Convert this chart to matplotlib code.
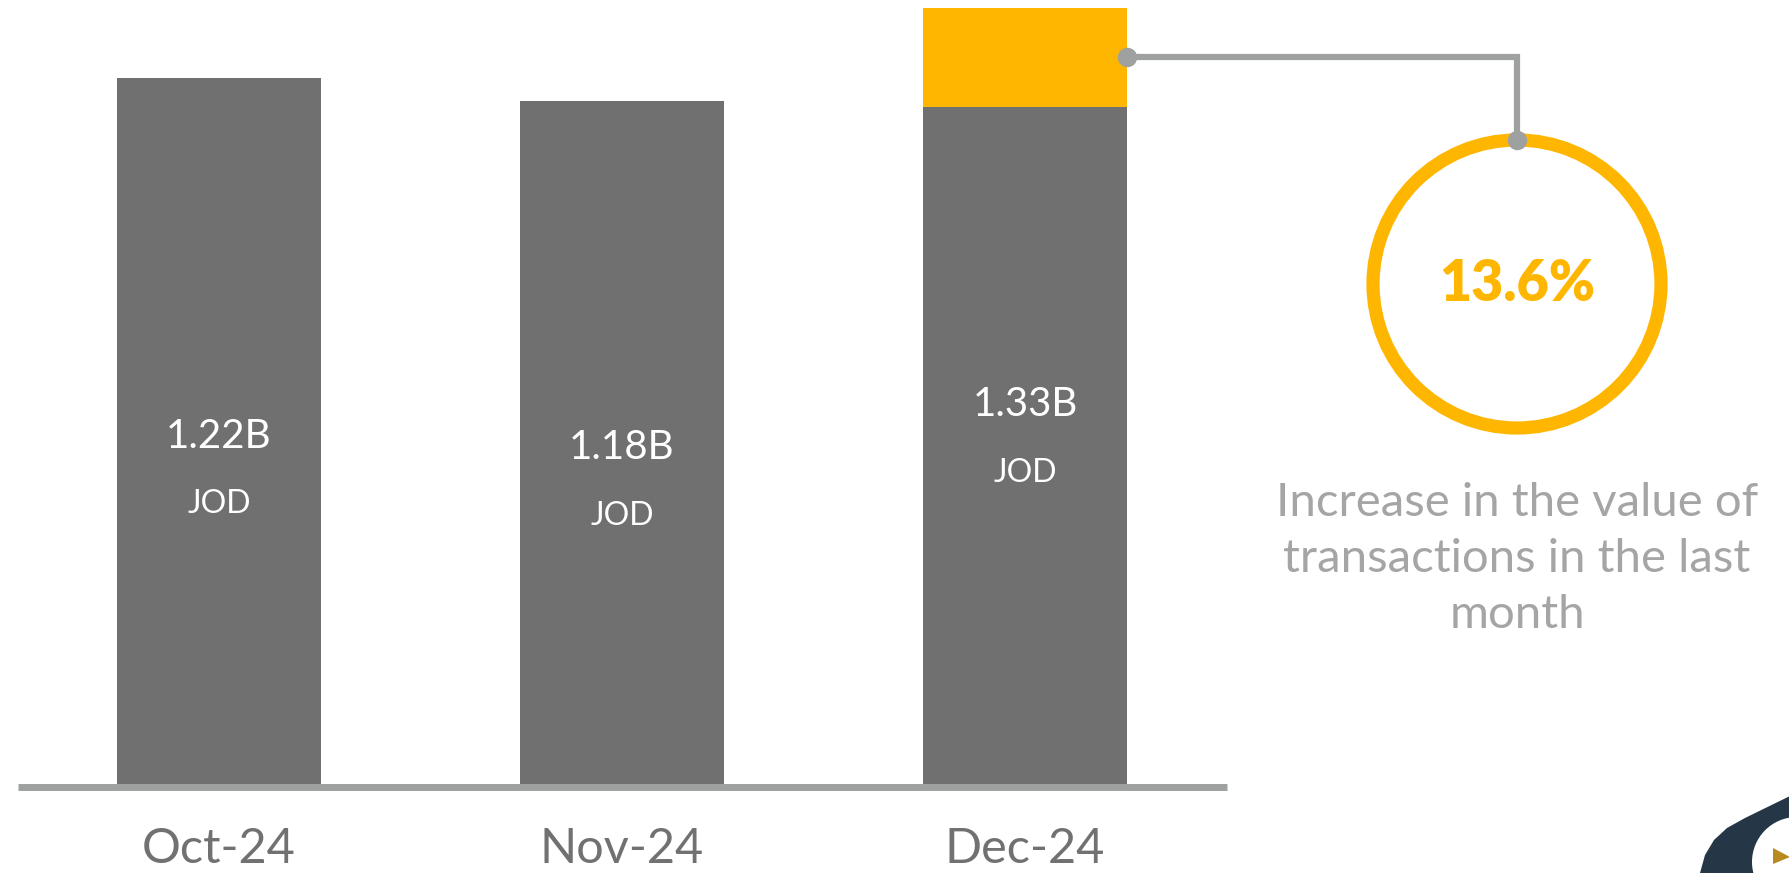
import matplotlib.pyplot as plt
import numpy as np
from matplotlib.patches import Circle, Polygon

# monthly value of transactions (billion JOD)
months = ["Oct-24", "Nov-24", "Dec-24"]
values = [1.22, 1.18, 1.33]
dec_base = 1.17  # gray part of the Dec bar, yellow shows the increase on top
growth = "13.6%"
note = "Increase in the value of\ntransactions in the last\nmonth"

gray_bar = "#6f706f"
yellow = "#ffb600"
line_gray = "#9ea1a0"

plt.rcParams['font.family'] = ['Lato', 'DejaVu Sans']

fig = plt.figure(figsize=(17.9, 8.73), dpi=100)
base = (873 - 786.5) / 873
ax = fig.add_axes([0, base, 1, 1 - base])
ax.set_xlim(-219 / 403, (1790 - 219) / 403)
ax.set_ylim(0, 786.5 / 581)
ax.axis("off")

x = np.arange(len(months))
w = 0.504
ax.bar(x[:2], values[:2], width=w, color=gray_bar, zorder=2)
ax.bar(x[2], dec_base, width=w, color=gray_bar, zorder=2)
ax.bar(x[2], values[2] - dec_base + 0.01, bottom=dec_base, width=w, color=yellow, zorder=2)

ax.plot([-0.5, 2.5], [0, 0], color=line_gray, lw=5, solid_capstyle="butt", zorder=3, clip_on=False)

for xi, v in zip(x, values):
    ax.text(xi, v * 0.494, f"{v:.2f}B", ha="center", va="center", color="white", fontsize=29)
    ax.text(xi, v * 0.494 - 0.117, "JOD", ha="center", va="center", color="white", fontsize=23)
    ax.text(xi, -0.108, months[xi], ha="center", va="center", color="#707170",
            fontsize=35, clip_on=False)

# overlay in pixel coordinates for the callout
ov = fig.add_axes([0, 0, 1, 1], zorder=5)
ov.set_xlim(0, 1790)
ov.set_ylim(873, 0)
ov.axis("off")

cx, cy, r = 1517, 284, 144
ov.add_patch(Circle((cx, cy), r, fill=False, ec=yellow, lw=9.5))

fig.canvas.draw()
sx, sy = ax.transData.transform((x[2] + w / 2, (dec_base + values[2] + 0.01) / 2))
sy = 873 - sy
ov.plot([sx, cx, cx], [sy, sy, cy - r], color=line_gray, lw=4.5, solid_joinstyle="miter")
ov.plot([sx, cx], [sy, cy - r], "o", color=line_gray, ms=14, mec="none")

ov.text(cx, cy, growth, ha="center", va="center", color=yellow, fontsize=40, fontweight="heavy")
ov.text(cx, 559, note, ha="center", va="center", color="#a5a5a5", fontsize=34, linespacing=1.4)

# corner logo
ov.add_patch(Polygon([(1700, 873), (1705, 855), (1714, 840), (1727, 828), (1745, 818),
                      (1790, 796), (1790, 873)], closed=True, color="#253746", lw=0))
ov.add_patch(Circle((1797, 862), 45, color="white", lw=0))
ov.add_patch(Polygon([(1773, 848), (1773, 864), (1790, 857)], closed=True, color="#b8891d", lw=0))

fig.savefig("out.png", dpi=100)
